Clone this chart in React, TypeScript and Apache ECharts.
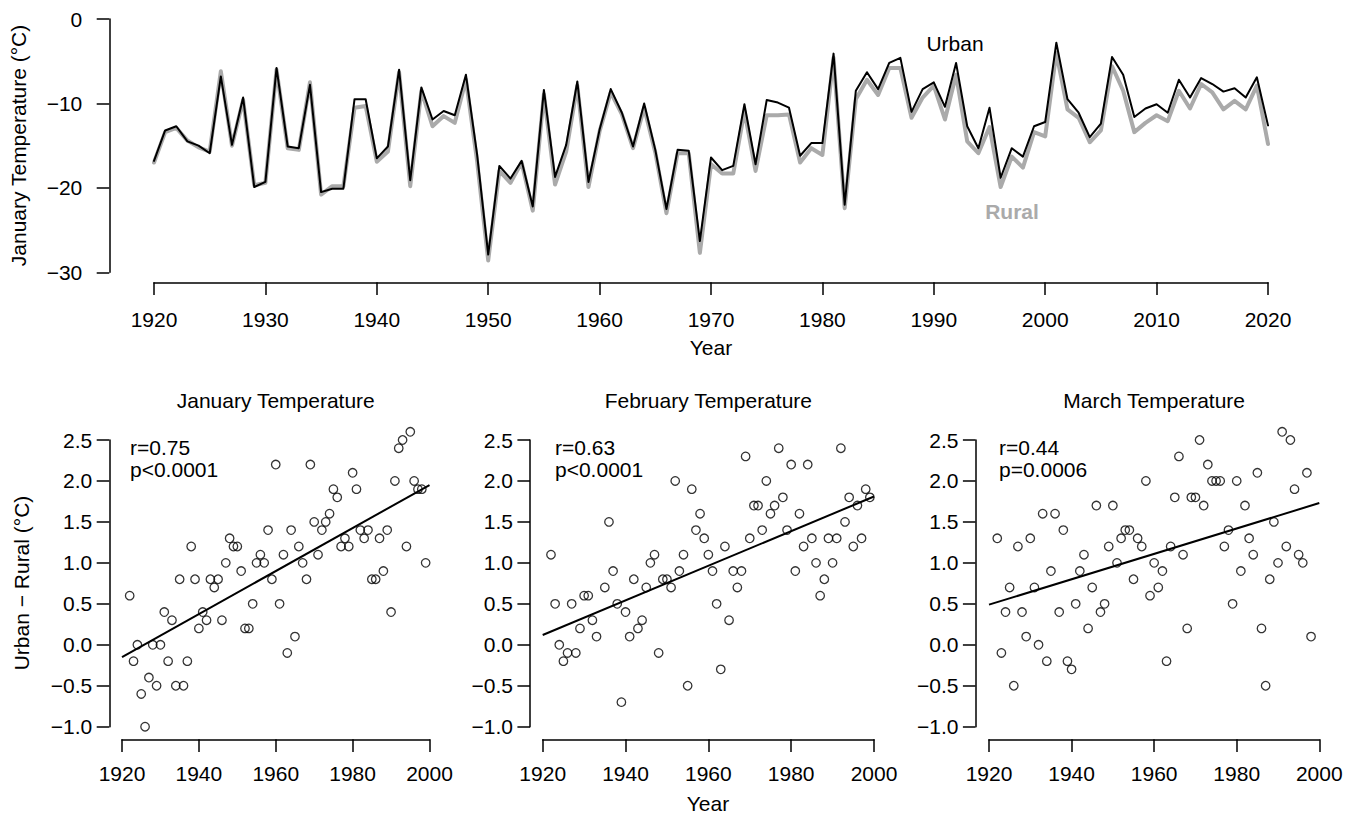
import React, { useEffect, useRef } from "react";
import * as echarts from "echarts";

const topYears: number[] = Array.from({ length: 101 }, (_, i) => 1920 + i);
const urbanJan: number[] = [
  -16.8, -13.2, -12.7, -14.5, -15.0, -15.9, -6.8, -14.9, -9.3, -19.9,
  -19.3, -5.8, -15.1, -15.3, -7.8, -20.5, -20.1, -20.1, -9.5, -9.5,
  -16.5, -15.1, -6.0, -19.1, -8.1, -11.9, -10.9, -11.4, -6.6, -16.0,
  -27.9, -17.4, -18.9, -16.8, -22.2, -8.4, -18.7, -14.9, -7.4, -19.3,
  -13.1, -8.3, -11.1, -15.1, -10.0, -15.5, -22.5, -15.5, -15.6, -26.3,
  -16.4, -17.9, -17.4, -10.1, -17.2, -9.6, -9.9, -10.5, -16.2, -14.7,
  -14.7, -4.1, -22.0, -8.5, -6.3, -8.3, -5.2, -4.6, -11.0, -8.3,
  -7.5, -10.4, -5.2, -12.7, -15.3, -10.5, -18.8, -15.3, -16.3, -12.7,
  -12.2, -2.8, -9.5, -11.1, -14.0, -12.4, -4.5, -6.6, -11.6, -10.6,
  -10.1, -11.1, -7.2, -9.3, -7.0, -7.7, -8.6, -8.2, -9.3, -6.9,
  -12.6,
];
const ruralJan: number[] = [
  -17.0, -13.4, -12.9, -14.4, -15.2, -15.7, -6.2, -15.0, -9.6, -19.7,
  -19.4, -6.0, -15.3, -15.5, -7.5, -20.8, -19.8, -19.8, -10.5, -10.3,
  -16.9, -15.7, -6.3, -19.8, -8.5, -12.7, -11.5, -12.3, -7.2, -16.8,
  -28.6, -18.0, -19.4, -17.0, -22.7, -8.9, -19.6, -15.7, -7.9, -19.9,
  -13.3, -8.7, -11.3, -15.3, -10.5, -15.8, -23.0, -15.9, -15.9, -27.7,
  -17.2, -18.3, -18.3, -10.9, -18.0, -11.4, -11.4, -11.3, -17.0, -15.3,
  -16.1, -4.6, -22.4, -9.5, -7.2, -9.0, -5.8, -5.8, -11.7, -9.3,
  -7.9, -11.9, -6.6, -14.5, -15.9, -12.8, -19.9, -16.3, -17.6, -13.4,
  -13.9, -4.0, -10.7, -11.7, -14.6, -13.2, -5.6, -8.5, -13.4, -12.3,
  -11.4, -12.1, -8.5, -10.6, -7.7, -8.7, -10.7, -9.7, -10.7, -7.9,
  -14.8,
];

const diffYears: number[] = Array.from({ length: 78 }, (_, i) => 1922 + i);
const janDiff: (number | null)[] = [
  0.6, -0.2, 0.0, -0.6, -1.0, -0.4, 0.0, -0.5, 0.0, 0.4,
  -0.2, 0.3, -0.5, 0.8, -0.5, -0.2, 1.2, 0.8, 0.2, 0.4,
  0.3, 0.8, 0.7, 0.8, 0.3, 1.0, 1.3, 1.2, 1.2, 0.9,
  0.2, 0.2, 0.5, 1.0, 1.1, 1.0, 1.4, 0.8, 2.2, 0.5,
  1.1, -0.1, 1.4, 0.1, 1.2, 1.0, 0.8, 2.2, 1.5, 1.1,
  1.4, 1.5, 1.6, 1.9, 1.8, 1.2, 1.3, 1.2, 2.1, 1.9,
  1.4, 1.3, 1.4, 0.8, 0.8, 1.3, 0.9, 1.4, 0.4, 2.0,
  2.4, 2.5, 1.2, 2.6, 2.0, 1.9, 1.9, 1.0,
];
const febDiff: (number | null)[] = [
  1.1, 0.5, 0.0, -0.2, -0.1, 0.5, -0.1, 0.2, 0.6, 0.6,
  0.3, 0.1, null, 0.7, 1.5, 0.9, 0.5, -0.7, 0.4, 0.1,
  0.8, 0.2, 0.3, 0.7, 1.0, 1.1, -0.1, 0.8, 0.8, 0.7,
  2.0, 0.9, 1.1, -0.5, 1.9, 1.4, 1.6, 1.3, 1.1, 0.9,
  0.5, -0.3, 1.2, 0.3, 0.9, 0.7, 0.9, 2.3, 1.3, 1.7,
  1.7, 1.4, 2.0, 1.6, 1.7, 2.4, 1.8, 1.4, 2.2, 0.9,
  1.6, 1.2, 2.2, 1.3, 1.0, 0.6, 0.8, 1.3, 1.0, 1.3,
  2.4, 1.5, 1.8, 1.2, 1.7, 1.3, 1.9, 1.8,
];
const marDiff: (number | null)[] = [
  1.3, -0.1, 0.4, 0.7, -0.5, 1.2, 0.4, 0.1, 1.3, 0.7,
  0.0, 1.6, -0.2, 0.9, 1.6, 0.4, 1.4, -0.2, -0.3, 0.5,
  0.9, 1.1, 0.2, 0.7, 1.7, 0.4, 0.5, 1.2, 1.7, 1.0,
  1.3, 1.4, 1.4, 0.8, 1.3, 1.2, 2.0, 0.6, 1.0, 0.7,
  0.9, -0.2, 1.2, 1.8, 2.3, 1.1, 0.2, 1.8, 1.8, 2.5,
  1.7, 2.2, 2.0, 2.0, 2.0, 1.2, 1.4, 0.5, 2.0, 0.9,
  1.7, 1.3, 1.1, 2.1, 0.2, -0.5, 0.8, 1.5, 1.0, 2.6,
  1.2, 2.5, 1.9, 1.1, 1.0, 2.1, 0.1, null,
];
const fitYears: number[] = [1920, 2000];
const janFit: number[] = [-0.15, 1.95];
const febFit: number[] = [0.12, 1.81];
const marFit: number[] = [0.49, 1.73];

const panelTitles: string[] = ["January Temperature", "February Temperature", "March Temperature"];
const panelStats: string[][] = [
  ["r=0.75", "p<0.0001"],
  ["r=0.63", "p<0.0001"],
  ["r=0.44", "p=0.0006"],
];

const FONT = "'Liberation Sans', Arial, Helvetica, sans-serif";
const FS = 21;
const GREY = "#aaaaaa";
const minus = (s: string) => s.replace("-", "\u2212");

export default function App() {
  const ref = useRef<HTMLDivElement>(null);
  useEffect(() => {
    const chart = echarts.init(ref.current!, null, { renderer: "svg" });

    const axLine = { show: true, onZero: false, lineStyle: { color: "#000", width: 1.5 } };
    const axTick = { show: true, length: 12.6, lineStyle: { color: "#000", width: 1.5 } };
    const lbl = { color: "#000", fontSize: FS, fontFamily: FONT, showMinLabel: true, showMaxLabel: true };

    const panels = [
      { left: 122, width: 307.5, yOff: 12.7, data: janDiff, fit: janFit },
      { left: 542.7, width: 331.3, yOff: 12.7, data: febDiff, fit: febFit },
      { left: 989, width: 330.3, yOff: 13.5, data: marDiff, fit: marFit },
    ];

    const grids: any[] = [{ left: 154, width: 1114, top: 19, height: 253.3 }];
    const xAxes: any[] = [
      {
        gridIndex: 0, type: "value", min: 1920, max: 2020, interval: 10, offset: 10,
        axisLine: axLine, axisTick: axTick, splitLine: { show: false },
        axisLabel: { ...lbl, margin: 27, formatter: (v: number) => String(v) },
      },
    ];
    const yAxes: any[] = [
      {
        gridIndex: 0, type: "value", min: -30, max: 0, interval: 10, offset: 44.7,
        axisLine: axLine, axisTick: axTick, splitLine: { show: false },
        axisLabel: { ...lbl, margin: 27, formatter: (v: number) => minus(String(v)) },
      },
    ];
    const series: any[] = [
      {
        type: "line", xAxisIndex: 0, yAxisIndex: 0, showSymbol: false, silent: true, clip: false,
        data: topYears.map((y, i) => [y, ruralJan[i]]),
        lineStyle: { color: GREY, width: 4, join: "round", cap: "round" },
      },
      {
        type: "line", xAxisIndex: 0, yAxisIndex: 0, showSymbol: false, silent: true, clip: false,
        data: topYears.map((y, i) => [y, urbanJan[i]]),
        lineStyle: { color: "#000", width: 2, join: "round", cap: "round" },
      },
    ];
    const txt = (x: number, y: number, text: string, opts: any = {}) => ({
      type: "text", x, y, rotation: opts.rotation || 0,
      style: {
        text, font: `${opts.bold ? "bold " : ""}${FS}px ${FONT}`, fill: opts.fill || "#000",
        textAlign: opts.align || "center", textVerticalAlign: "middle",
      },
    });
    const graphics: any[] = [
      txt(955, 43, "Urban"),
      txt(1012, 211, "Rural", { bold: true, fill: GREY }),
      txt(711, 347, "Year"),
      txt(18.5, 145.5, "January Temperature (\u00B0C)", { rotation: Math.PI / 2 }),
      txt(21.7, 583, "Urban \u2212 Rural (\u00B0C)", { rotation: Math.PI / 2 }),
      txt(708, 803, "Year"),
    ];

    panels.forEach((p, k) => {
      const gi = k + 1;
      grids.push({ left: p.left, width: p.width, top: 440, height: 286.7 });
      xAxes.push({
        gridIndex: gi, type: "value", min: 1920, max: 2000, interval: 20, offset: 12.6,
        axisLine: axLine, axisTick: axTick, splitLine: { show: false },
        axisLabel: { ...lbl, margin: 24, formatter: (v: number) => String(v) },
      });
      yAxes.push({
        gridIndex: gi, type: "value", min: -1, max: 2.5, interval: 0.5, offset: p.yOff,
        axisLine: axLine, axisTick: axTick, splitLine: { show: false },
        axisLabel: { ...lbl, margin: 17, formatter: (v: number) => minus(v.toFixed(1)) },
      });
      series.push({
        type: "scatter", xAxisIndex: gi, yAxisIndex: gi, silent: true, clip: false,
        symbol: "circle", symbolSize: 8.5,
        data: diffYears.map((y, i) => [y, p.data[i]]).filter((d) => d[1] !== null),
        itemStyle: { color: "rgba(255,255,255,0)", borderColor: "#000", borderWidth: 1.3 },
      });
      series.push({
        type: "line", xAxisIndex: gi, yAxisIndex: gi, showSymbol: false, silent: true, clip: false,
        data: fitYears.map((y, i) => [y, p.fit[i]]),
        lineStyle: { color: "#000", width: 2 },
      });
      const cx = p.left + p.width / 2;
      graphics.push(txt(cx, 400, panelTitles[k]));
      const tx = [130, 555, 999][k];
      graphics.push(txt(tx, 447, panelStats[k][0], { align: "left" }));
      graphics.push(txt(tx, 469, panelStats[k][1], { align: "left" }));
    });

    chart.setOption({
      animation: false,
      backgroundColor: "#fff",
      textStyle: { fontFamily: FONT },
      grid: grids,
      xAxis: xAxes,
      yAxis: yAxes,
      series,
      graphic: graphics,
    });
    return () => chart.dispose();
  }, []);
  return (
    <div
      ref={ref}
      style={{ position: "fixed", left: 0, top: 0, width: 1360, height: 814, background: "#fff" }}
    />
  );
}
